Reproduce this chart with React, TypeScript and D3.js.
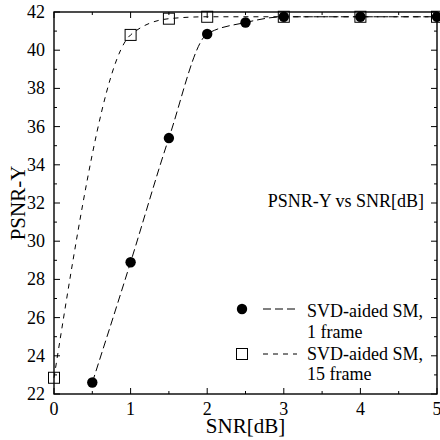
import React from 'react';
import * as d3 from 'd3';

// PSNR-Y vs SNR[dB]
const snr1 = [0.5, 1, 1.5, 2, 2.5, 3, 4, 5];
const psnr1 = [22.6, 28.9, 35.4, 40.85, 41.45, 41.75, 41.75, 41.75];
const snr15 = [0, 1, 1.5, 2, 3, 4, 5];
const psnr15 = [22.85, 40.8, 41.65, 41.75, 41.75, 41.75, 41.75];
const xTicks = [0, 1, 2, 3, 4, 5];
const yTicks = [22, 24, 26, 28, 30, 32, 34, 36, 38, 40, 42];
const legendNames = ['SVD-aided SM,', 'SVD-aided SM,'];
const legendSub = ['1 frame', '15 frame'];

const W = 440;
const H = 440;
const margin = {top: 12, right: 3, bottom: 46, left: 54};
const font = '"Liberation Serif", "Times New Roman", serif';

export default function App()
{
    let x = d3.scaleLinear().domain([0, 5]).range([margin.left, W - margin.right]);
    let y = d3.scaleLinear().domain([22, 42]).range([H - margin.bottom, margin.top]);

    let line = d3.line<[number, number]>()
        .x(d => x(d[0]))
        .y(d => y(d[1]))
        .curve(d3.curveMonotoneX);

    let pts1: [number, number][] = snr1.map((s, i) => [s, psnr1[i]]);
    let pts15: [number, number][] = snr15.map((s, i) => [s, psnr15[i]]);

    let x0 = margin.left, x1 = W - margin.right;
    let y0 = H - margin.bottom, y1 = margin.top;

    let xMinor = d3.range(0, 5.01, 0.5);
    let yMinor = d3.range(22, 42.01, 1);

    let dash1 = '8,4';
    let dash15 = '5,5';

    return (
        <svg width={W} height={H} style={{position: 'absolute', left: 0, top: 0, background: '#fff'}}
             fontFamily={font}>
            <rect x={0} y={0} width={W} height={H} fill="#fff"/>

            {/* ticks, inward on all four sides */}
            <g stroke="#000" strokeWidth={1}>
                {xMinor.map((t, i) => {
                    let major = Number.isInteger(t);
                    let len = major ? 6 : 3;
                    return (
                        <g key={'xt' + i}>
                            <line x1={x(t)} x2={x(t)} y1={y0} y2={y0 - len}/>
                            <line x1={x(t)} x2={x(t)} y1={y1} y2={y1 + len}/>
                        </g>
                    );
                })}
                {yMinor.map((t, i) => {
                    let major = t % 2 === 0;
                    let len = major ? 6 : 3;
                    return (
                        <g key={'yt' + i}>
                            <line x1={x0} x2={x0 + len} y1={y(t)} y2={y(t)}/>
                            <line x1={x1} x2={x1 - len} y1={y(t)} y2={y(t)}/>
                        </g>
                    );
                })}
            </g>

            {/* curves */}
            <path d={line(pts15) || ''} fill="none" stroke="#000" strokeWidth={1}
                  strokeDasharray={dash15}/>
            <path d={line(pts1) || ''} fill="none" stroke="#000" strokeWidth={1}
                  strokeDasharray={dash1}/>

            {/* markers */}
            {pts15.map((d, i) =>
                <rect key={'s' + i} x={x(d[0]) - 5.5} y={y(d[1]) - 5.5} width={11} height={11}
                      fill="none" stroke="#000" strokeWidth={1}/>
            )}
            {pts1.map((d, i) =>
                <circle key={'c' + i} cx={x(d[0])} cy={y(d[1])} r={5.2} fill="#000"/>
            )}

            {/* frame */}
            <rect x={x0} y={y1} width={x1 - x0} height={y0 - y1} fill="none" stroke="#000"
                  strokeWidth={1.4}/>

            {/* tick labels */}
            <g fontSize={18} fill="#000">
                {xTicks.map(t =>
                    <text key={'xl' + t} x={x(t)} y={y0 + 21} textAnchor="middle">{t}</text>
                )}
                {yTicks.map(t =>
                    <text key={'yl' + t} x={x0 - 9} y={y(t) + 6} textAnchor="end">{t}</text>
                )}
            </g>

            {/* axis titles */}
            <text x={(x0 + x1) / 2} y={433} textAnchor="middle" fontSize={21}>SNR[dB]</text>
            <text transform={'translate(25,' + (y0 + y1) / 2 + ') rotate(-90)'} textAnchor="middle"
                  fontSize={21}>PSNR-Y</text>

            <text x={424} y={207} textAnchor="end" fontSize={18}>PSNR-Y vs SNR[dB]</text>

            {/* legend */}
            <g fontSize={18}>
                <circle cx={242} cy={309} r={5.2} fill="#000"/>
                <line x1={263} x2={297} y1={309} y2={309} stroke="#000" strokeDasharray={dash1}/>
                <text x={307} y={317}>{legendNames[0]}</text>
                <text x={307} y={338}>{legendSub[0]}</text>

                <rect x={236.5} y={348.5} width={11} height={11} fill="none" stroke="#000"/>
                <line x1={263} x2={297} y1={354} y2={354} stroke="#000" strokeDasharray={dash15}/>
                <text x={307} y={360}>{legendNames[1]}</text>
                <text x={307} y={380}>{legendSub[1]}</text>
            </g>
        </svg>
    );
}
